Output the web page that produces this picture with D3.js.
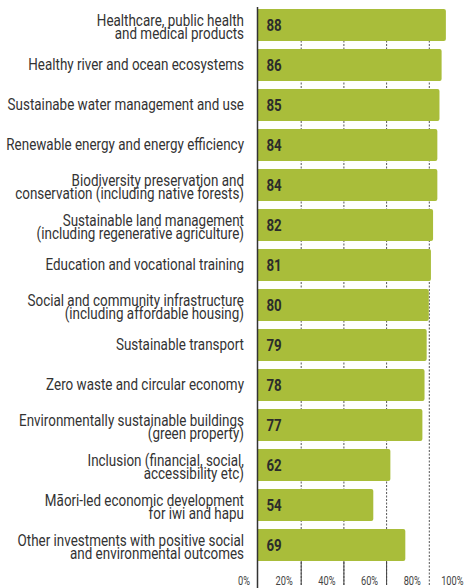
<!DOCTYPE html>
<html>
<head>
<meta charset="utf-8">
<script src="https://cdn.jsdelivr.net/npm/d3@7"></script>
<style>
  html, body { margin: 0; padding: 0; background: #fff; }
  svg { display: block; }
  .cat { font-family: "Roboto", "Liberation Sans", sans-serif; font-size: 16px; fill: #333; }
  .val { font-family: "Roboto", "Liberation Sans", sans-serif; font-size: 16px; font-weight: bold; fill: #2b2b2b; }
  .tick-label { font-family: "Roboto", "Liberation Sans", sans-serif; font-size: 12px; fill: #444; }
</style>
</head>
<body>
<svg id="chart" width="469" height="588"></svg>
<script>
// Category labels (each entry is the list of lines shown for that bar)
const categories = [
  ["Healthcare, public health", "and medical products"],
  ["Healthy river and ocean ecosystems"],
  ["Sustainabe water management and use"],
  ["Renewable energy and energy efficiency"],
  ["Biodiversity preservation and", "conservation (including native forests)"],
  ["Sustainable land management", "(including regenerative agriculture)"],
  ["Education and vocational training"],
  ["Social and community infrastructure", "(including affordable housing)"],
  ["Sustainable transport"],
  ["Zero waste and circular economy"],
  ["Environmentally sustainable buildings", "(green property)"],
  ["Inclusion (financial, social,", "accessibility etc)"],
  ["Māori-led economic development", "for iwi and hapu"],
  ["Other investments with positive social", "and environmental outcomes"]
];
const values = [88, 86, 85, 84, 84, 82, 81, 80, 79, 78, 77, 62, 54, 69];
const tickValues = [0, 20, 40, 60, 80, 100];
const tickLabels = ["0%", "20%", "40%", "60%", "80%", "100%"];

// Horizontal squeeze giving the condensed lettering
const catSquash = 0.84, valSquash = 0.83, tickSquash = 0.77;

const svg = d3.select("#chart");
const keys = categories.map(c => c.join(" "));

const x = d3.scaleLinear().domain([0, 100]).range([258, 471.5]);
const y = d3.scaleBand().domain(keys).range([5, 565]).paddingInner(0.2).paddingOuter(0.1);

const axisBottomY = 585;
const lastValue = values[values.length - 1];
const lastBarBottom = y(keys[keys.length - 1]) + y.bandwidth();

// Dashed vertical gridlines
svg.append("g")
  .selectAll("line")
  .data(tickValues.filter(t => t > 0))
  .join("line")
  .attr("x1", d => x(d) + 0.5)
  .attr("x2", d => x(d) + 0.5)
  .attr("y1", y(keys[0]))
  .attr("y2", axisBottomY)
  .attr("stroke", "#555")
  .attr("stroke-width", 1)
  .attr("stroke-dasharray", "2,1.5");

// Solid tick marks below the last bar
svg.append("g")
  .selectAll("line")
  .data(tickValues.filter(t => t > 0 && t <= lastValue))
  .join("line")
  .attr("x1", d => x(d) + 0.5)
  .attr("x2", d => x(d) + 0.5)
  .attr("y1", lastBarBottom)
  .attr("y2", axisBottomY)
  .attr("stroke", "#444")
  .attr("stroke-width", 1);

// Bars with slightly rounded right ends
const r = 2;
svg.append("g")
  .selectAll("path")
  .data(values)
  .join("path")
  .attr("fill", "#a9bd3a")
  .attr("d", (d, i) => {
    const x0 = x(0), x1 = x(d), y0 = y(keys[i]), h = y.bandwidth();
    return `M${x0},${y0} H${x1 - r} Q${x1},${y0} ${x1},${y0 + r} V${y0 + h - r} Q${x1},${y0 + h} ${x1 - r},${y0 + h} H${x0} Z`;
  });

// Value axis line
svg.append("line")
  .attr("x1", x(0) - 0.5).attr("x2", x(0) - 0.5)
  .attr("y1", 7).attr("y2", 588)
  .attr("stroke", "#333").attr("stroke-width", 1.5);

// Value labels
svg.append("g")
  .selectAll("text")
  .data(values)
  .join("text")
  .attr("class", "val")
  .attr("transform", (d, i) =>
    `translate(${x(0) + 8.5},${y(keys[i]) + y.bandwidth() / 2 + 5.5}) scale(${valSquash},1)`)
  .text(d => d);

// Category labels
const lineH = 12.4;
const catG = svg.append("g");
categories.forEach((lines, i) => {
  const cy = y(keys[i]) + y.bandwidth() / 2;
  const firstBaseline = cy + 4.7 - (lines.length - 1) * 3.5;
  const t = catG.append("text")
    .attr("class", "cat")
    .attr("text-anchor", "end")
    .attr("transform", `translate(244,${firstBaseline}) scale(${catSquash},1)`);
  lines.forEach((ln, j) => {
    t.append("tspan")
      .attr("x", 0)
      .attr("y", j * lineH)
      .text(ln);
  });
});

// Percent tick labels
svg.append("g")
  .selectAll("text")
  .data(tickValues)
  .join("text")
  .attr("class", "tick-label")
  .attr("text-anchor", "end")
  .attr("transform", d => `translate(${x(d) - 8},${axisBottomY}) scale(${tickSquash},1)`)
  .text((d, i) => tickLabels[i]);
</script>
</body>
</html>
